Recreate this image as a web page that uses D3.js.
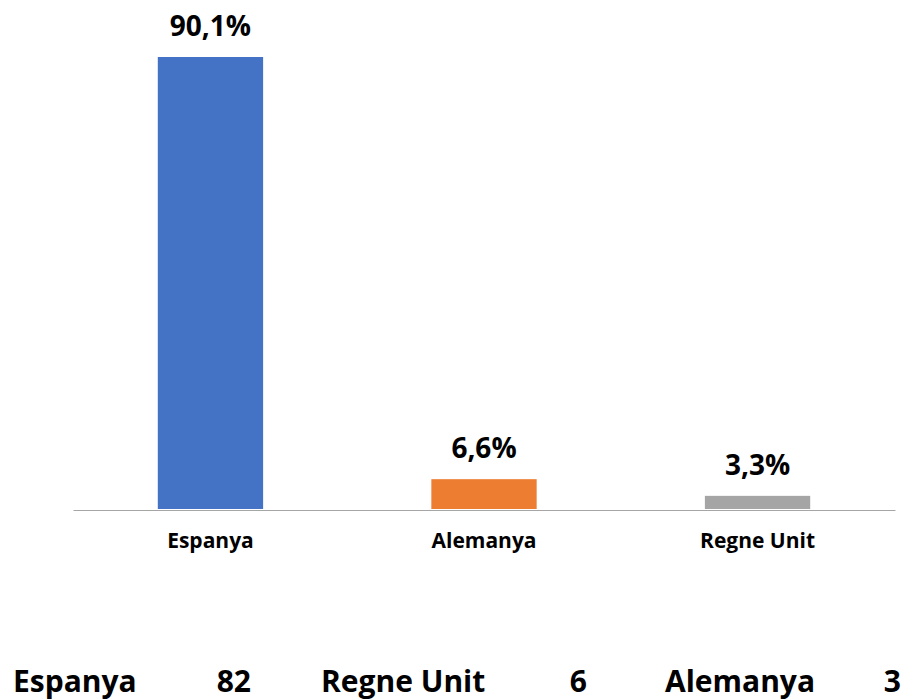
<!DOCTYPE html>
<html>
<head>
<meta charset="utf-8">
<script src="https://cdn.jsdelivr.net/npm/d3@7"></script>
<style>
  body { margin: 0; background: #fff; overflow: hidden; }
  text { font-family: "Open Sans", "Noto Sans", sans-serif; font-weight: 700; fill: #000; }
</style>
</head>
<body>
<svg id="chart"></svg>
<script>
const width = 909;
const height = 700;

const categories = ['Espanya', 'Alemanya', 'Regne Unit'];
const values = [90.1, 6.6, 3.3];
const labels = ['90,1%', '6,6%', '3,3%'];
const colors = ['#4472C4', '#ED7D31', '#A5A5A5'];

// the row of text below the chart
const rowNames = ['Espanya', 'Regne Unit', 'Alemanya'];
const rowValues = [82, 6, 3];

const svg = d3.select('#chart')
            .attr('width', width)
            .attr('height', height);

const x = d3.scaleBand().domain(categories).range([73, 895]).paddingInner(0.615).paddingOuter(0.31);
const y = d3.scaleLinear().domain([0.7, 90.1]).range([509, 57]);

svg.append('g').selectAll('rect')
  .data(values)
  .enter().append('rect')
  .attr('x', (d, i) => x(categories[i]))
  .attr('width', x.bandwidth())
  .attr('y', d => y(d))
  .attr('height', d => 509 - y(d))
  .attr('fill', (d, i) => colors[i]);

svg.append('g').selectAll('text')
  .data(values)
  .enter().append('text')
  .attr('x', (d, i) => x(categories[i]) + x.bandwidth() / 2)
  .attr('y', d => y(d) - 21)
  .attr('text-anchor', 'middle')
  .style('font-size', '28px')
  .text((d, i) => labels[i]);

// axis line + category labels
const xAxis = svg.append('g').attr('transform', 'translate(0, 510)')
  .call(d3.axisBottom(x).tickSize(0).tickPadding(0));
xAxis.select('.domain').attr('stroke', '#a6a6a6').attr('stroke-width', 1.2);
xAxis.selectAll('text')
  .attr('dy', 0)
  .attr('y', 38)
  .style('font-size', '21px')
  .style('font-family', '"Open Sans", "Noto Sans", sans-serif')
  .style('font-weight', 700);

const nameX = [13, 321, 665];
const valueX = [251, 587, 901];

svg.append('g').selectAll('text')
  .data(rowNames)
  .enter().append('text')
  .attr('x', (d, i) => nameX[i])
  .attr('y', 692)
  .style('font-size', '30px')
  .text(d => d);

svg.append('g').selectAll('text')
  .data(rowValues)
  .enter().append('text')
  .attr('x', (d, i) => valueX[i])
  .attr('y', 692)
  .attr('text-anchor', 'end')
  .style('font-size', '30px')
  .text(d => d);
</script>
</body>
</html>
